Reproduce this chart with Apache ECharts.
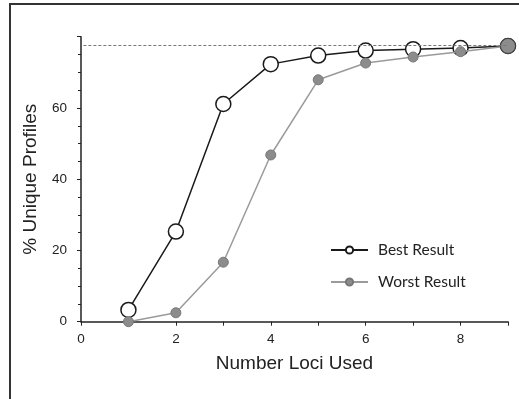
<!DOCTYPE html>
<html><head><meta charset="utf-8">
<script src="https://cdn.jsdelivr.net/npm/echarts@6/dist/echarts.min.js"></script>
<style>html,body{margin:0;padding:0;background:#fff}#c{width:519px;height:399px}</style>
</head><body><div id="c"></div>
<script>
var lociUsed = [1, 2, 3, 4, 5, 6, 7, 8, 9];
var bestResult = [3.3, 25.3, 61.1, 72.3, 74.7, 76.1, 76.5, 76.8, 77.4];
var worstResult = [0, 2.5, 16.7, 46.8, 67.9, 72.6, 74.3, 75.8, 77.4];
var maxLevel = 77.5;
var xTickLabels = [0, 2, 4, 6, 8];
var yTickLabels = [0, 20, 40, 60];

var chart = echarts.init(document.getElementById('c'));
var font = 'Liberation Sans';
chart.setOption({
  animation: false,
  graphic: [{
    type: 'rect', shape: {x: 10, y: 4, width: 520, height: 400},
    style: {fill: 'none', stroke: '#333', lineWidth: 2}, silent: true, z: -1
  }],
  grid: {left: 81, right: 11, top: 36.7, bottom: 77.3},
  legend: {
    left: 325, top: 237, orient: 'vertical', itemGap: 16, itemWidth: 37, itemHeight: 9,
    textStyle: {fontFamily: 'Lato', fontSize: 15.5, color: '#222', padding: [0, 0, 0, 5]},
    data: ['Best Result', 'Worst Result']
  },
  xAxis: {
    type: 'value', min: 0, max: 9, interval: 1,
    name: 'Number Loci Used', nameLocation: 'middle', nameGap: 33,
    nameTextStyle: {fontFamily: font, fontSize: 19, color: '#222'},
    axisLine: {onZero: false, lineStyle: {color: '#222', width: 1.5}},
    axisTick: {show: true, length: 4, lineStyle: {color: '#222'}},
    axisLabel: {fontFamily: font, fontSize: 13.5, color: '#222', margin: 11,
      formatter: function (v) { return xTickLabels.indexOf(v) >= 0 ? String(v) : ''; }},
    splitLine: {show: false}
  },
  yAxis: {
    type: 'value', min: 0, max: 80, interval: 20,
    name: '% Unique Profiles', nameLocation: 'middle', nameGap: 41,
    nameTextStyle: {fontFamily: font, fontSize: 19, color: '#222'},
    axisLine: {show: true, lineStyle: {color: '#222', width: 1.5}},
    axisTick: {show: true, length: 4, lineStyle: {color: '#222'}},
    minorTick: {show: true, splitNumber: 4, length: 3, lineStyle: {color: '#222'}},
    axisLabel: {fontFamily: font, fontSize: 13.5, color: '#222', margin: 14,
      formatter: function (v) { return yTickLabels.indexOf(v) >= 0 ? String(v) : ''; }},
    splitLine: {show: false}
  },
  series: [{
    name: 'Best Result', type: 'line',
    data: lociUsed.map(function (x, i) { return [x, bestResult[i]]; }),
    symbol: 'circle', symbolSize: 15,
    lineStyle: {color: '#1a1a1a', width: 1.5},
    itemStyle: {color: '#fff', borderColor: '#1a1a1a', borderWidth: 1.5},
    z: 2,
    markLine: {
      silent: true, symbol: 'none', label: {show: false},
      lineStyle: {color: '#777', type: [3, 2], width: 1},
      data: [[{coord: [0.05, maxLevel]}, {coord: [9, maxLevel]}]]
    }
  }, {
    name: 'Worst Result', type: 'line',
    data: lociUsed.map(function (x, i) {
      return i === lociUsed.length - 1 ? {value: [x, worstResult[i]], symbolSize: 15, itemStyle: {borderColor: '#444'}} : [x, worstResult[i]];
    }),
    symbol: 'circle', symbolSize: 10,
    lineStyle: {color: '#9a9a9a', width: 1.5},
    itemStyle: {color: '#8c8c8c', borderColor: '#777', borderWidth: 1},
    z: 3
  }]
});
</script></body></html>
